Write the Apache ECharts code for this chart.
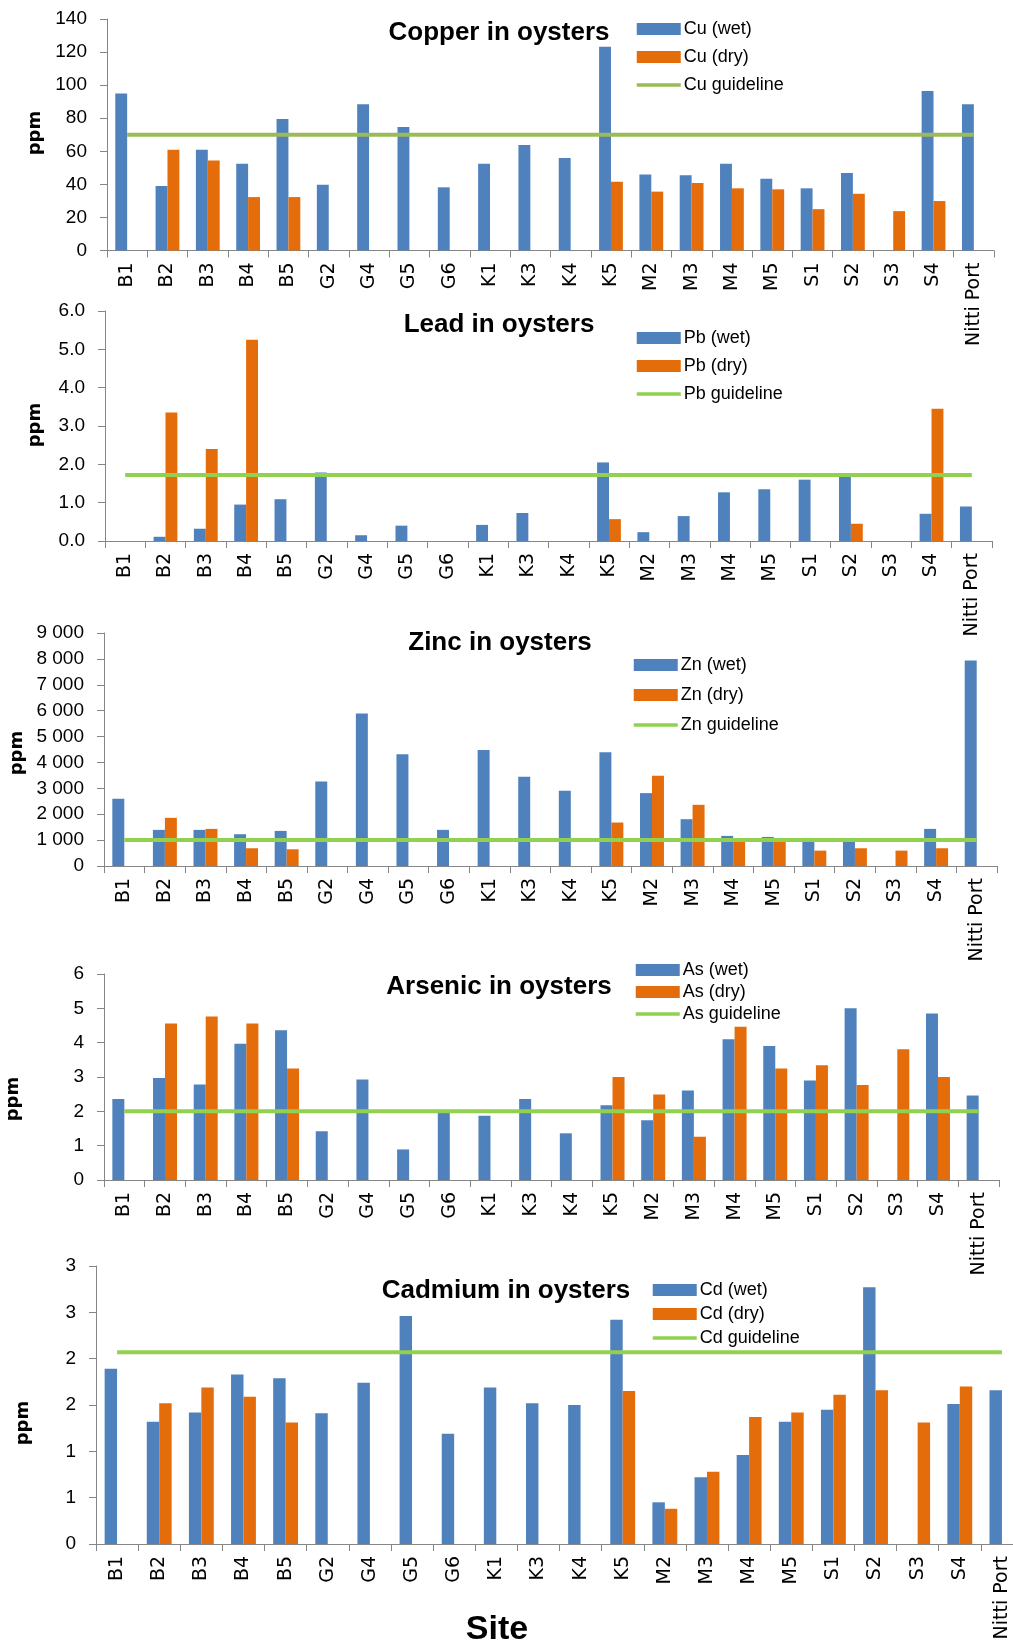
<!DOCTYPE html>
<html><head><meta charset="utf-8">
<script src="https://cdn.jsdelivr.net/npm/echarts@6/dist/echarts.min.js"></script>
<style>html,body{margin:0;padding:0;background:#fff;overflow:hidden}#c{width:1060px;height:1646px}</style>
</head><body><div id="c"></div>
<script>
// ---------- DATA ----------
const categories = ['B1','B2','B3','B4','B5','G2','G4','G5','G6','K1','K3','K4','K5','M2','M3','M4','M5','S1','S2','S3','S4','Nitti Port'];

const cuWet = [95,39,61,52.5,79.5,39.8,88.5,74.7,38.2,52.5,63.8,56,123.2,46,45.5,52.5,43.4,37.6,46.9,null,96.4,88.5];
const cuDry = [null,61,54.5,32.3,32.3,null,null,null,null,null,null,null,41.6,35.6,40.8,37.6,37,25,34.3,23.8,29.9,null];
const cuGuide = 70;
const cuTicks = ['0','20','40','60','80','100','120','140'];

const pbWet = [null,0.11,0.32,0.95,1.09,1.79,0.15,0.40,null,0.42,0.73,null,2.05,0.23,0.65,1.27,1.35,1.60,1.69,null,0.71,0.90];
const pbDry = [null,3.35,2.40,5.25,null,null,null,null,null,null,null,null,0.57,null,null,null,null,null,0.45,null,3.45,null];
const pbGuide = 1.72;
const pbTicks = ['0.0','1.0','2.0','3.0','4.0','5.0','6.0'];

const znWet = [2600,1395,1395,1227,1356,3267,5888,4313,1395,4481,3448,2905,4390,2815,1808,1162,1124,1030,980,null,1434,7941];
const znDry = [null,1860,1434,685,646,null,null,null,null,null,null,null,1679,3486,2363,1020,980,594,685,594,685,null];
const znGuide = 1000;
const znTicks = ['0','1 000','2 000','3 000','4 000','5 000','6 000','7 000','8 000','9 000'];

const asWet = [2.36,2.97,2.78,3.97,4.36,1.42,2.93,0.89,1.98,1.87,2.36,1.36,2.18,1.74,2.61,4.10,3.90,2.90,5.0,null,4.85,2.46];
const asDry = [null,4.56,4.76,4.56,3.25,null,null,null,null,null,null,null,3.0,2.49,1.26,4.46,3.25,3.34,2.77,3.81,3.0,null];
const asGuide = 2.0;
const asTicks = ['0','1','2','3','4','5','6'];

const cdWet = [1.89,1.32,1.42,1.83,1.79,1.41,1.74,2.46,1.19,1.69,1.52,1.50,2.42,0.45,0.72,0.96,1.32,1.45,2.77,null,1.51,1.66];
const cdDry = [null,1.52,1.69,1.59,1.31,null,null,null,null,null,null,null,1.65,0.38,0.78,1.37,1.42,1.61,1.66,1.31,1.70,null];
const cdGuide = 2.07;
const cdTicks = ['0','1','1','2','2','3','3'];

// ---------- LAYOUT / STYLE ----------
const BLUE = '#4F81BD', ORANGE = '#E46C0A';
const NUM_FONT = "'Liberation Sans', Arial, sans-serif";
const CAT_FONT = "'DejaVu Sans', Verdana, sans-serif";
const TITLE_FONT = "'Liberation Sans Narrow', 'Liberation Sans', sans-serif";

const panels = [
  {el:'Cu', title:'Copper in oysters', wet:cuWet, dry:cuDry, guide:cuGuide, ticks:cuTicks, interval:20, gColor:'#9BBB59',
   grid:{left:107, top:19, width:887, height:231.5}, tPos:[499,33], leg:{left:630, top:15, gap:10}, ppm:[35,133]},
  {el:'Pb', title:'Lead in oysters', wet:pbWet, dry:pbDry, guide:pbGuide, ticks:pbTicks, interval:1, gColor:'#92D050',
   grid:{left:105, top:311, width:887, height:230}, tPos:[499,325], leg:{left:630, top:324, gap:10}, ppm:[35,425]},
  {el:'Zn', title:'Zinc in oysters', wet:znWet, dry:znDry, guide:znGuide, ticks:znTicks, interval:1000, gColor:'#92D050',
   grid:{left:104, top:633, width:893, height:233}, tPos:[500,643], leg:{left:627, top:651, gap:12}, ppm:[17,753]},
  {el:'As', title:'Arsenic in oysters', wet:asWet, dry:asDry, guide:asGuide, ticks:asTicks, interval:1, gColor:'#92D050',
   grid:{left:104, top:974, width:895, height:206}, tPos:[499,987], leg:{left:629, top:956, gap:4}, ppm:[13,1099]},
  {el:'Cd', title:'Cadmium in oysters', wet:cdWet, dry:cdDry, guide:cdGuide, ticks:cdTicks, interval:0.5, gColor:'#92D050',
   grid:{left:96, top:1266, width:927, height:278}, tPos:[506,1291], leg:{left:646, top:1276, gap:6}, ppm:[23,1423]}
];

const grids = [], xAxes = [], yAxes = [], series = [], legends = [], graphics = [];
panels.forEach((p, i) => {
  grids.push(Object.assign({containLabel:false}, p.grid));
  xAxes.push({
    type:'category', gridIndex:i, data:categories,
    axisLine:{show:true, lineStyle:{color:'#868686', width:1}},
    axisTick:{show:true, length:7, alignWithLabel:false, lineStyle:{color:'#868686'}},
    axisLabel:{interval:0, rotate:90, margin:12, color:'#000', fontFamily:CAT_FONT, fontSize:19}
  });
  yAxes.push({
    type:'value', gridIndex:i, min:0, max:p.interval*(p.ticks.length-1), interval:p.interval,
    axisLine:{show:true, lineStyle:{color:'#868686', width:1}},
    axisTick:{show:true, length:7, lineStyle:{color:'#868686'}},
    splitLine:{show:false},
    axisLabel:{margin:20, color:'#000', fontFamily:NUM_FONT, fontSize:19,
      formatter:(v) => p.ticks[Math.round(v/p.interval)]}
  });
  const nW = p.el+' (wet)', nD = p.el+' (dry)', nG = p.el+' guideline';
  series.push({type:'bar', name:nW, xAxisIndex:i, yAxisIndex:i, data:p.wet, itemStyle:{color:BLUE},
    barGap:'0%', barCategoryGap:'41%'});
  series.push({type:'bar', name:nD, xAxisIndex:i, yAxisIndex:i, data:p.dry, itemStyle:{color:ORANGE},
    barGap:'0%', barCategoryGap:'41%'});
  series.push({type:'line', name:nG, xAxisIndex:i, yAxisIndex:i, symbol:'none', z:5,
    data:[[categories[0], p.guide],[categories[categories.length-1], p.guide]],
    lineStyle:{color:p.gColor, width:4}, itemStyle:{color:p.gColor}});
  legends.push({
    orient:'vertical', left:p.leg.left, top:p.leg.top, itemGap:p.leg.gap, itemWidth:44, itemHeight:12,
    selectedMode:false,
    data:[{name:nW, icon:'rect'},{name:nD, icon:'rect'},
          {name:nG, itemStyle:{opacity:0, color:'rgba(0,0,0,0)', borderWidth:0}, lineStyle:{width:3.5, color:p.gColor}}],
    textStyle:{fontFamily:NUM_FONT, fontSize:18, color:'#000', lineHeight:18, padding:[0,0,0,-2]}
  });
  graphics.push({type:'text', x:p.tPos[0], y:p.tPos[1],
    style:{text:p.title, font:"bold 26px "+TITLE_FONT, fill:'#000', textAlign:'center', textVerticalAlign:'middle'}});
  graphics.push({type:'text', x:p.ppm[0], y:p.ppm[1], rotation:Math.PI/2,
    style:{text:'ppm', font:"bold 18px "+CAT_FONT, fill:'#000', textAlign:'center', textVerticalAlign:'middle'}});
});
graphics.push({type:'text', x:497, y:1630,
  style:{text:'Site', font:"bold 34px "+TITLE_FONT, fill:'#000', textAlign:'center', textVerticalAlign:'middle'}});

const chart = echarts.init(document.getElementById('c'), null, {renderer:'canvas'});
chart.setOption({
  animation:false, backgroundColor:'#fff',
  grid:grids, xAxis:xAxes, yAxis:yAxes, series:series, legend:legends, graphic:graphics
});
</script></body></html>
